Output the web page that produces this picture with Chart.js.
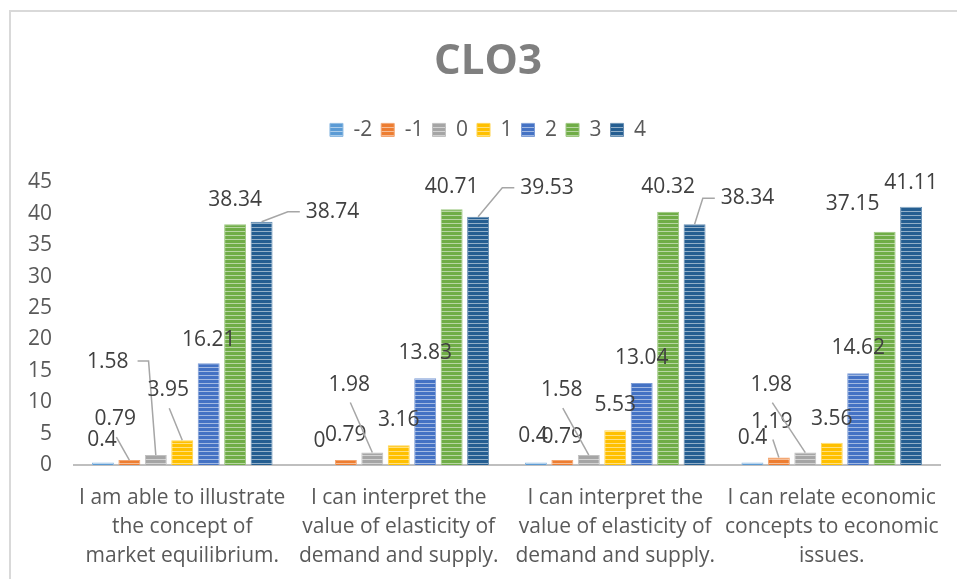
<!DOCTYPE html>
<html>
<head>
<meta charset="utf-8">
<script src="https://cdn.jsdelivr.net/npm/chart.js@4"></script>
<style>
  html, body { margin: 0; padding: 0; background: #fff; overflow: hidden; }
  #frame { position: absolute; left: 9px; top: 10px; width: 990px; height: 600px; border-left: 2px solid #d9d9d9; border-top: 2px solid #d9d9d9; }
  #wrap { position: absolute; left: 10px; top: 0; width: 956px; height: 579px; }
</style>
</head>
<body>
<div id="frame"></div>
<div id="wrap"><canvas id="chart" width="956" height="579"></canvas></div>
<script>
// categories (x axis, already split into lines like the original)
const categories = [
    ['I am able to illustrate', 'the concept of', 'market equilibrium.'],
    ['I can interpret the', 'value of elasticity of', 'demand and supply.'],
    ['I can interpret the', 'value of elasticity of', 'demand and supply.'],
    ['I can relate economic', 'concepts to economic', 'issues.']
];

// series (percent per score)
const seriesNames = ['-2', '-1', '0', '1', '2', '3', '4'];
const scoreMinus2 = [0.4, 0, 0.4, 0.4];
const scoreMinus1 = [0.79, 0.79, 0.79, 1.19];
const score0 = [1.58, 1.98, 1.58, 1.98];
const score1 = [3.95, 3.16, 5.53, 3.56];
const score2 = [16.21, 13.83, 13.04, 14.62];
const score3 = [38.34, 40.71, 40.32, 37.15];
const score4 = [38.74, 39.53, 38.34, 41.11];

// y axis ticks
const yMin = 0;
const yMax = 45;
const yStep = 5;

const seriesColors = ['#5b9bd5', '#ed7d31', '#a5a5a5', '#ffc000', '#4472c4', '#70ad47', '#255e91'];

// where each value label sits, relative to the top of its bar: [dx, dy, leader]
const labelShift = [
    [[-1, -22], [0, -24], [-3, -26], [0, -24]],
    [[-14, -41, 'below'], [0, -25], [0, -23], [-7, -36, 'below']],
    [[-48, -93, 'right'], [-23, -68, 'below'], [-27, -65, 'below'], [-34, -68, 'below']],
    [[-14, -50, 'below'], [0, -25], [0, -25], [0, -24]],
    [[0, -23], [0, -25], [0, -25], [0, -25]],
    [[0, -24], [0, -22], [0, -25], [-32, -28]],
    [[71, -10, 'left'], [69, -29, 'left'], [53, -26, 'left'], [0, -24]]
];

function lighten(hex, amt) {
    const n = parseInt(hex.slice(1), 16);
    const r = (n >> 16) & 255, g = (n >> 8) & 255, b = n & 255;
    const f = c => Math.round(c + (255 - c) * amt);
    return `rgb(${f(r)}, ${f(g)}, ${f(b)})`;
}

// horizontal stripes like the Excel fill
function makePattern(hex) {
    const c = document.createElement('canvas');
    c.width = 4;
    c.height = 4;
    const g = c.getContext('2d');
    g.fillStyle = hex;
    g.fillRect(0, 0, 4, 4);
    g.fillStyle = lighten(hex, 0.5);
    g.fillRect(0, 3, 4, 1);
    return g.createPattern(c, 'repeat');
}

const seriesValues = [scoreMinus2, scoreMinus1, score0, score1, score2, score3, score4];

const datasets = seriesNames.map((name, i) => ({
    label: name,
    data: seriesValues[i],
    backgroundColor: makePattern(seriesColors[i]),
    borderColor: lighten(seriesColors[i], 0.3),
    borderWidth: 1,
    barPercentage: 0.83,
    categoryPercentage: 0.855
}));

const valueLabels = {
    id: 'valueLabels',
    afterDatasetsDraw(chart) {
        const ctx = chart.ctx;
        ctx.save();
        ctx.font = '21px "Open Sans"';
        ctx.textAlign = 'center';
        ctx.textBaseline = 'middle';
        chart.data.datasets.forEach((ds, i) => {
            const meta = chart.getDatasetMeta(i);
            meta.data.forEach((bar, j) => {
                const text = String(ds.data[j]);
                const [dx, dy, leader] = labelShift[i][j];
                const lx = bar.x + dx;
                const ly = bar.y + dy;
                if (leader) {
                    const half = ctx.measureText(text).width / 2;
                    ctx.strokeStyle = '#a6a6a6';
                    ctx.lineWidth = 1.5;
                    ctx.beginPath();
                    if (leader === 'below') {
                        ctx.moveTo(lx + 1, ly + 18);
                    } else if (leader === 'right') {
                        ctx.moveTo(lx + half + 9, ly - 1);
                        ctx.lineTo(lx + half + 20, ly - 1);
                    } else {
                        ctx.moveTo(lx - half - 6, ly);
                        ctx.lineTo(lx - half - 18, ly);
                    }
                    ctx.lineTo(bar.x, bar.y);
                    ctx.stroke();
                }
                ctx.fillStyle = '#404040';
                ctx.fillText(text, lx, ly);
            });
        });
        ctx.restore();
    }
};

// extra room under the legend
const legendGap = {
    id: 'legendGap',
    beforeInit(chart) {
        const fit = chart.legend.fit;
        chart.legend.fit = function () {
            fit.call(this);
            this.height += 32;
        };
    }
};

new Chart(document.getElementById('chart'), {
    type: 'bar',
    data: {
        labels: categories,
        datasets
    },
    options: {
        responsive: false,
        animation: false,
        layout: { padding: { left: 14, right: 14, top: 0, bottom: 0 } },
        plugins: {
            title: {
                display: true,
                text: 'CLO3',
                color: '#7f7f7f',
                font: { family: 'Open Sans', size: 42, weight: 'bold' },
                padding: { top: 37, bottom: 23 }
            },
            legend: {
                display: true,
                labels: {
                    boxWidth: 13,
                    boxHeight: 13,
                    padding: 9,
                    color: '#595959',
                    font: { family: 'Open Sans', size: 21 }
                }
            },
            tooltip: { enabled: false }
        },
        scales: {
            x: {
                grid: { display: false, drawTicks: false },
                border: { display: true, color: '#bfbfbf', width: 2 },
                ticks: {
                    color: '#595959',
                    font: { family: 'Open Sans', size: 21, lineHeight: 1.4 },
                    padding: 18,
                    maxRotation: 0,
                    autoSkip: false
                },
                afterFit(scale) {
                    scale.height = 114;
                }
            },
            y: {
                min: yMin,
                max: yMax,
                grid: { display: false, drawTicks: false },
                border: { display: false },
                ticks: {
                    stepSize: yStep,
                    color: '#595959',
                    font: { family: 'Open Sans', size: 21 },
                    padding: 22
                },
                afterFit(scale) {
                    scale.width = 50;
                }
            },
            // empty axis on the right, only keeps the plot symmetric with the title
            yRight: {
                type: 'linear',
                position: 'right',
                min: yMin,
                max: yMax,
                grid: { display: false, drawTicks: false },
                border: { display: false },
                ticks: { display: false },
                afterFit(scale) {
                    scale.width = 12;
                }
            }
        }
    },
    plugins: [valueLabels, legendGap]
});
</script>
</body>
</html>
